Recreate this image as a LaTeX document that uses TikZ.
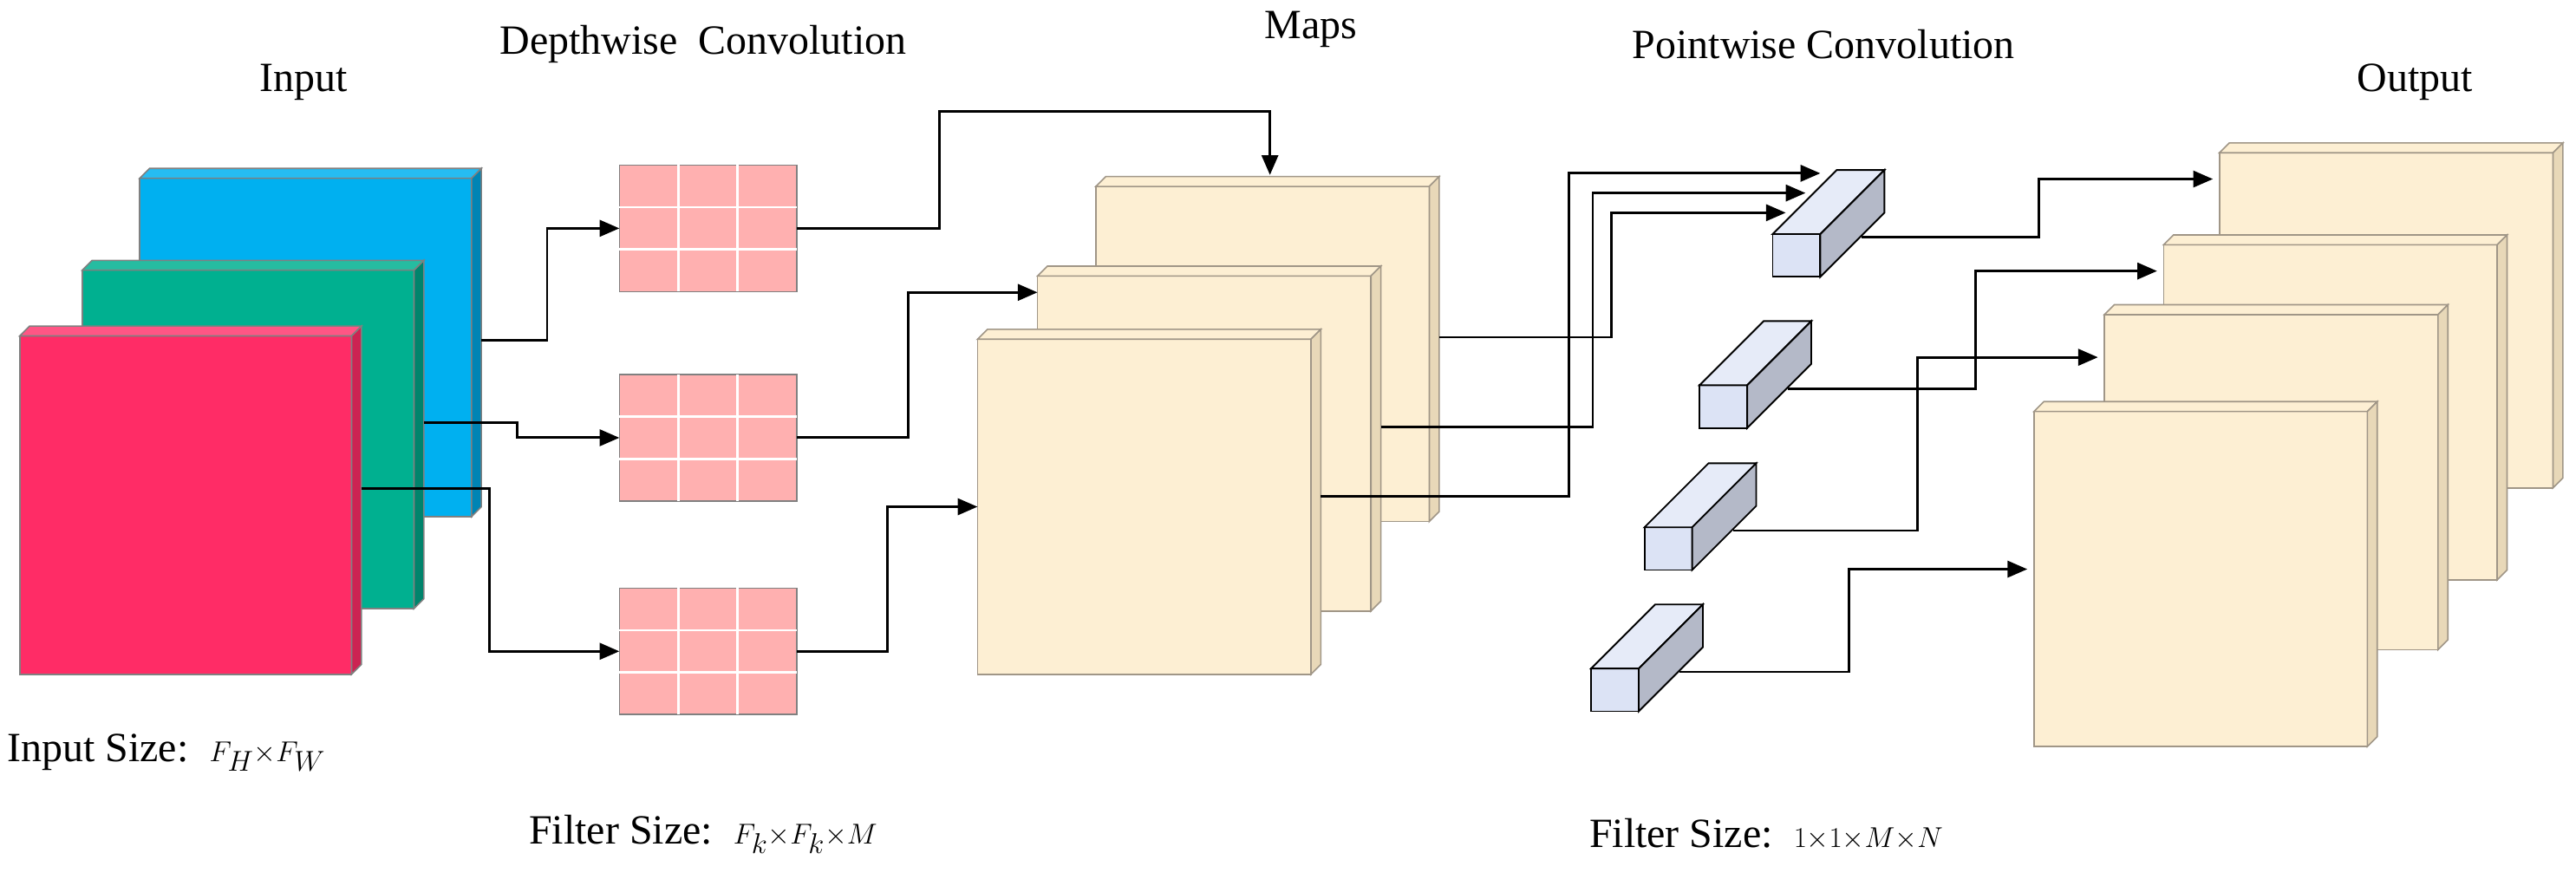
\documentclass[tikz,border=0pt]{standalone}
\usepackage{fontspec}
\setmainfont{Liberation Serif}
\usetikzlibrary{arrows.meta,calc}
\definecolor{inblue}{RGB}{0, 176, 240}
\definecolor{ingreen}{RGB}{0, 176, 144}
\definecolor{inred}{RGB}{255, 44, 102}
\definecolor{kernpink}{RGB}{255, 176, 176}
\definecolor{mapcream}{RGB}{253, 239, 211}
\definecolor{mapside}{RGB}{232, 216, 184}
\definecolor{mapedge}{RGB}{160, 150, 135}
\definecolor{boxfront}{RGB}{220, 227, 245}
\definecolor{boxtop}{RGB}{230, 235, 248}
\definecolor{boxside}{RGB}{180, 185, 200}

% depth faces of a sheet: node, top colour, side colour, border
\newcommand\slab[4]{%
  \filldraw[draw=#4, line width=1.2pt, fill=#2] (#1.north west) -- ++(6,-6) -- ([shift={(6,-6)}]#1.north east) -- (#1.north east) -- cycle;
  \filldraw[draw=#4, line width=1.2pt, fill=#3] (#1.north east) -- ++(6,-6) -- ([shift={(6,-6)}]#1.south east) -- (#1.south east) -- cycle;}
% pointwise filter bar
\newcommand\pwbar[1]{%
  \filldraw[line width=1.4pt, fill=boxtop] (#1.north west) -- ++(39,-39) -- ([shift={(39,-39)}]#1.north east) -- (#1.north east) -- cycle;
  \filldraw[line width=1.4pt, fill=boxside] (#1.north east) -- ++(39,-39) -- ([shift={(39,-39)}]#1.south east) -- (#1.south east) -- cycle;}
% white grid of a kernel
\newcommand\grid[1]{%
  \foreach \f in {1,2} {
    \draw[white, line width=2pt] ($(#1.north west)!\f/3!(#1.north east)$) -- ($(#1.south west)!\f/3!(#1.south east)$);
    \draw[white, line width=2pt] ($(#1.north west)!\f/3!(#1.south west)$) -- ($(#1.north east)!\f/3!(#1.south east)$);
  }}

\tikzset{
  sheet/.style={draw=gray, line width=1.2pt, inner sep=0, outer sep=0, minimum width=101mm, minimum height=103mm},
  map/.style={draw=mapedge, fill=mapcream, line width=1.2pt, inner sep=0, outer sep=0, minimum width=101.5mm, minimum height=102mm},
  kern/.style={draw=gray, fill=kernpink, line width=1.2pt, inner sep=0, outer sep=0, minimum width=54mm, minimum height=38.5mm},
  pw/.style={draw, fill=boxfront, line width=1.4pt, inner sep=0, outer sep=0, minimum width=14.5mm, minimum height=13mm},
  arr/.style={line width=2.2pt, -{Triangle[length=6mm, width=5mm]}},
  lbl/.style={font=\fontsize{36}{40}\selectfont}
}

\begin{document}
\begin{tikzpicture}[x=0.5mm, y=-0.5mm]
  \useasboundingbox (0,0) rectangle (1568,531);

  % input
  \node[sheet, fill=inblue] (inB) at (186,211.5) {};
  \slab{inB}{inblue!85!white}{inblue!75!black}{gray}
  \node[sheet, fill=ingreen] (inG) at (151,267.5) {};
  \slab{inG}{ingreen!85!white}{ingreen!75!black}{gray}
  \node[sheet, fill=inred] (inR) at (113,307.5) {};
  \slab{inR}{inred!80!white}{inred!80!black}{gray}

  % depthwise kernels
  \node[kern] (k1) at (431,139) {};
  \node[kern] (k2) at (431,266.5) {};
  \node[kern] (k3) at (431,396.5) {};
  \grid{k1}\grid{k2}\grid{k3}

  % maps
  \node[map] (mB) at (768.5,215.5) {};
  \slab{mB}{mapcream}{mapside}{mapedge}
  \node[map] (mM) at (733,270) {};
  \slab{mM}{mapcream}{mapside}{mapedge}
  \node[map] (mF) at (696.5,308.5) {};
  \slab{mF}{mapcream}{mapside}{mapedge}

  % pointwise filters
  \node[pw] (b1) at (1093.5,155.5) {};
  \pwbar{b1}
  \node[pw] (b2) at (1049,247.5) {};
  \pwbar{b2}
  \node[pw] (b3) at (1015.5,334) {};
  \pwbar{b3}
  \node[pw] (b4) at (983,420) {};
  \pwbar{b4}

  % output
  \node[map] (o1) at (1452.5,195) {};
  \slab{o1}{mapcream}{mapside}{mapedge}
  \node[map] (o2) at (1418.5,251) {};
  \slab{o2}{mapcream}{mapside}{mapedge}
  \node[map] (o3) at (1382.5,293.5) {};
  \slab{o3}{mapcream}{mapside}{mapedge}
  \node[map] (o4) at (1339.5,352.5) {};
  \slab{o4}{mapcream}{mapside}{mapedge}

  % input to kernels
  \draw[arr] ($(inB.north east)!0.48!(inB.south east)+(6,0)$) -- ++(40,0) |- (k1.west);
  \draw[arr] ($(inG.north east)!0.45!(inG.south east)+(6,0)$) -- ++(57,0) |- (k2.west);
  \draw[arr] ($(inR.north east)!0.45!(inR.south east)+(6,0)$) -- ++(78,0) |- (k3.west);

  % kernels to maps
  \coordinate (mTop) at (773,68);
  \draw[arr] (k1.east) -- ++(87,0) |- (mTop) -- ($(mTop |- mB.north)+(0,-7)$);
  \draw[arr] (k2.east) -- ++(68,0) |- ($(mM.north west)+(0,10)$);
  \draw[arr] (k3.east) -- ++(55,0) |- (mF.west);

  % maps to first filter
  \draw[arr] ($(mB.north east)!0.45!(mB.south east)+(6,0)$) -- ++(105,0) |- ($(b1.north west)+(8,-13)$);
  \draw[arr] ($(mM.north east)!0.45!(mM.south east)+(6,0)$) -- ++(129,0) |- ($(b1.north west)+(20,-25)$);
  \draw[arr] ($(mF.north east)!0.47!(mF.south east)+(6,0)$) -- ++(151,0) |- ($(b1.north west)+(29,-37)$);

  % filters to output
  \draw[arr] ($(b1.east)+(25,-11)$) -- ++(108,0) |- ($(o1.north west)+(-4,16)$);
  \draw[arr] ($(b2.east)+(25,-11)$) -- ++(114,0) |- ($(o2.north west)+(-4,16)$);
  \draw[arr] ($(b3.east)+(25,-11)$) -- ++(112,0) |- ($(o3.north west)+(-4,26)$);
  \draw[arr] ($(b4.east)+(25,-11)$) -- ++(103,0) |- ($(o4.north west)+(-4,96)$);

  % labels
  \node[lbl] (tIn) at (185,50) {Input};
  \node[lbl] (tDw) at (428,27) {Depthwise\ \ Convolution};
  \node[lbl] (tMap) at (798,18) {Maps};
  \node[lbl] (tPw) at (1110,27) {Pointwise Convolution};
  \node[lbl] (tOut) at (1470,50) {Output};
  \node[lbl, anchor=west] (tInSz) at (2,458) {Input Size:\ \ $F_H{\times}F_W$};
  \node[lbl] (tDwSz) at (428,508) {Filter Size:\ \ $F_k{\times}F_k{\times}M$};
  \node[lbl] (tPwSz) at (1075,508) {Filter Size:\ \ $1{\times}1{\times}M{\times}N$};
\end{tikzpicture}
\end{document}
